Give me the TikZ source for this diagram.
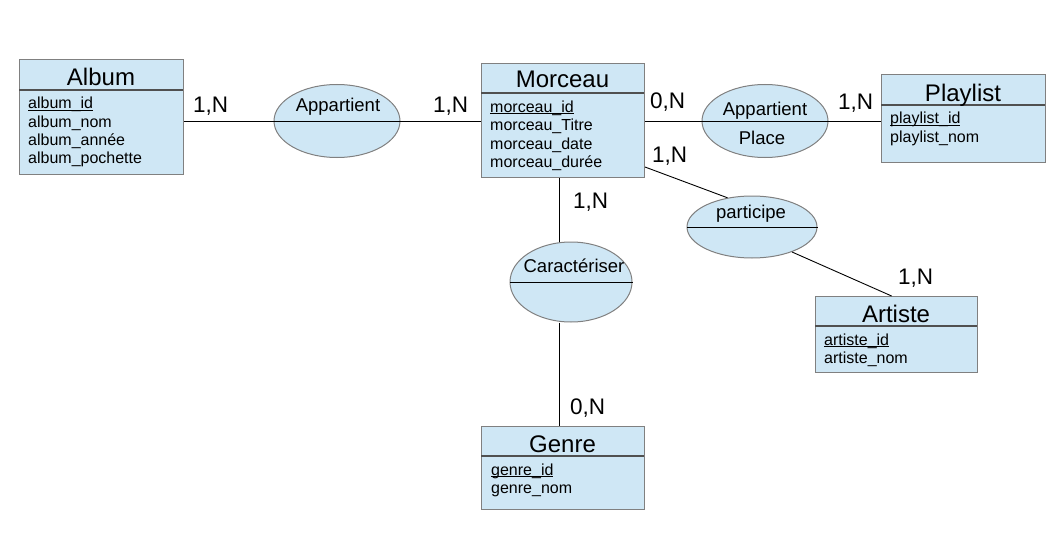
\documentclass[tikz,border=0pt]{standalone}
\usepackage{fontspec}
\setmainfont{Liberation Sans}
\usetikzlibrary{shapes.geometric}
\definecolor{boxfill}{HTML}{CFE7F5}
\definecolor{boxline}{HTML}{808080}
\definecolor{sepline}{HTML}{505050}
\newcommand\keyul[1]{\setbox0\hbox{#1}\rlap{\rule[-1.9pt]{\wd0}{0.9pt}}\box0}
\tikzset{
  ent/.style={rectangle, draw=boxline, fill=boxfill, line width=1.2pt, anchor=north west, inner sep=0pt},
  rel/.style={ellipse, draw=boxline, fill=boxfill, line width=1pt, inner sep=0pt},
  sep/.style={draw=sepline, line width=1.2pt},
  div/.style={draw=black, line width=0.9pt},
  conn/.style={draw=black, line width=0.9pt},
  ttl/.style={anchor=base, inner sep=0pt, font=\fontsize{24}{28}\selectfont},
  attr/.style={anchor=base west, inner sep=0pt, font=\fontsize{16}{18}\selectfont},
  card/.style={anchor=base west, inner sep=0pt, font=\fontsize{22.5}{26}\selectfont},
  rtxt/.style={anchor=base, inner sep=0pt, font=\fontsize{18.5}{22}\selectfont},
}
\begin{document}
\begin{tikzpicture}[x=1pt,y=-1pt]
\useasboundingbox (0,0) rectangle (1050,535);
\coordinate (vx) at (559,0);

% ---- Album
\node[ent, minimum width=164pt, minimum height=115pt] (album) at (19,59) {};
\draw[sep] (19,90) -- (183,90);
\node[ttl] (albumT) at (101,85) {Album};
\node[attr] (a1) at (28,109) {\keyul{album\_id}};
\node[attr] (a2) at (28,127) {album\_nom};
\node[attr] (a3) at (28,145) {album\_année};
\node[attr] (a4) at (28,163) {album\_pochette};

% ---- Morceau
\node[ent, minimum width=163pt, minimum height=114pt] (morceau) at (481,63) {};
\draw[sep] (481,93) -- (644,93);
\node[ttl] (morceauT) at (562.5,88) {Morceau};
\node[attr] (m1) at (490,112) {\keyul{morceau\_id}};
\node[attr] (m2) at (490,130.5) {morceau\_Titre};
\node[attr] (m3) at (490,149) {morceau\_date};
\node[attr] (m4) at (490,167) {morceau\_durée};

% ---- Playlist
\node[ent, minimum width=164pt, minimum height=88pt] (playlist) at (881,74) {};
\draw[sep] (881,105) -- (1045,105);
\node[ttl] (playlistT) at (963,101) {Playlist};
\node[attr] (p1) at (890,124) {\keyul{playlist\_id}};
\node[attr] (p2) at (890,142) {playlist\_nom};

% ---- Artiste
\node[ent, minimum width=162pt, minimum height=76pt] (artiste) at (815,296) {};
\draw[sep] (815,326) -- (977,326);
\node[ttl] (artisteT) at (896,322) {Artiste};
\node[attr] (r1) at (824,345) {\keyul{artiste\_id}};
\node[attr] (r2) at (824,363) {artiste\_nom};

% ---- Genre
\node[ent, minimum width=163pt, minimum height=83pt] (genre) at (481,426) {};
\draw[sep] (481,456) -- (644,456);
\node[ttl] (genreT) at (562.5,452) {Genre};
\node[attr] (g1) at (491,475) {\keyul{genre\_id}};
\node[attr] (g2) at (491,493) {genre\_nom};

% ---- Relations
\node[rel, minimum width=126pt, minimum height=73pt] (app1) at (337,121) {};
\draw[div] (app1.west) -- (app1.east);
\node[rtxt] (app1T) at (338,111) {Appartient};

\node[rel, minimum width=126pt, minimum height=73pt] (app2) at (765,121) {};
\draw[div] (app2.west) -- (app2.east);
\node[rtxt] (app2T) at (765,115) {Appartient};
\node[rtxt] (app2P) at (762,144) {Place};

\node[rel, minimum width=130pt, minimum height=62pt] (part) at (752,227) {};
\draw[div] (part.west) -- (part.east);
\node[rtxt] (partT) at (751,218) {participe};

\node[rel, minimum width=122pt, minimum height=80pt] (car) at (571,282) {};
\draw[div] (car.west) -- (car.east);
\node[rtxt] (carT) at (574,272) {Caractériser};

% ---- Connectors
\draw[conn] (app1.west -| album.east) -- (app1.west);
\draw[conn] (app1.east) -- (app1.east -| morceau.west);
\draw[conn] (app2.west -| morceau.east) -- (app2.west);
\draw[conn] (app2.east) -- (app2.east -| playlist.west);
\coordinate (mp) at (645,167);
\draw[conn] (mp) -- (part.130);
\draw[conn] (part.328) -- ([xshift=-5pt]artiste.north);
\draw[conn] (morceau.south -| vx) -- (car.north -| vx);
\draw[conn] (car.south -| vx) -- (genre.north -| vx);

% ---- Cardinalities
\node[card] (c1) at (193,113) {1,N};
\node[card] (c2) at (433,113) {1,N};
\node[card] (c3) at (650,108) {0,N};
\node[card] (c4) at (838,110) {1,N};
\node[card] (c5) at (652,162) {1,N};
\node[card] (c6) at (573,208) {1,N};
\node[card] (c7) at (898,284) {1,N};
\node[card] (c8) at (570,414) {0,N};
\end{tikzpicture}
\end{document}
